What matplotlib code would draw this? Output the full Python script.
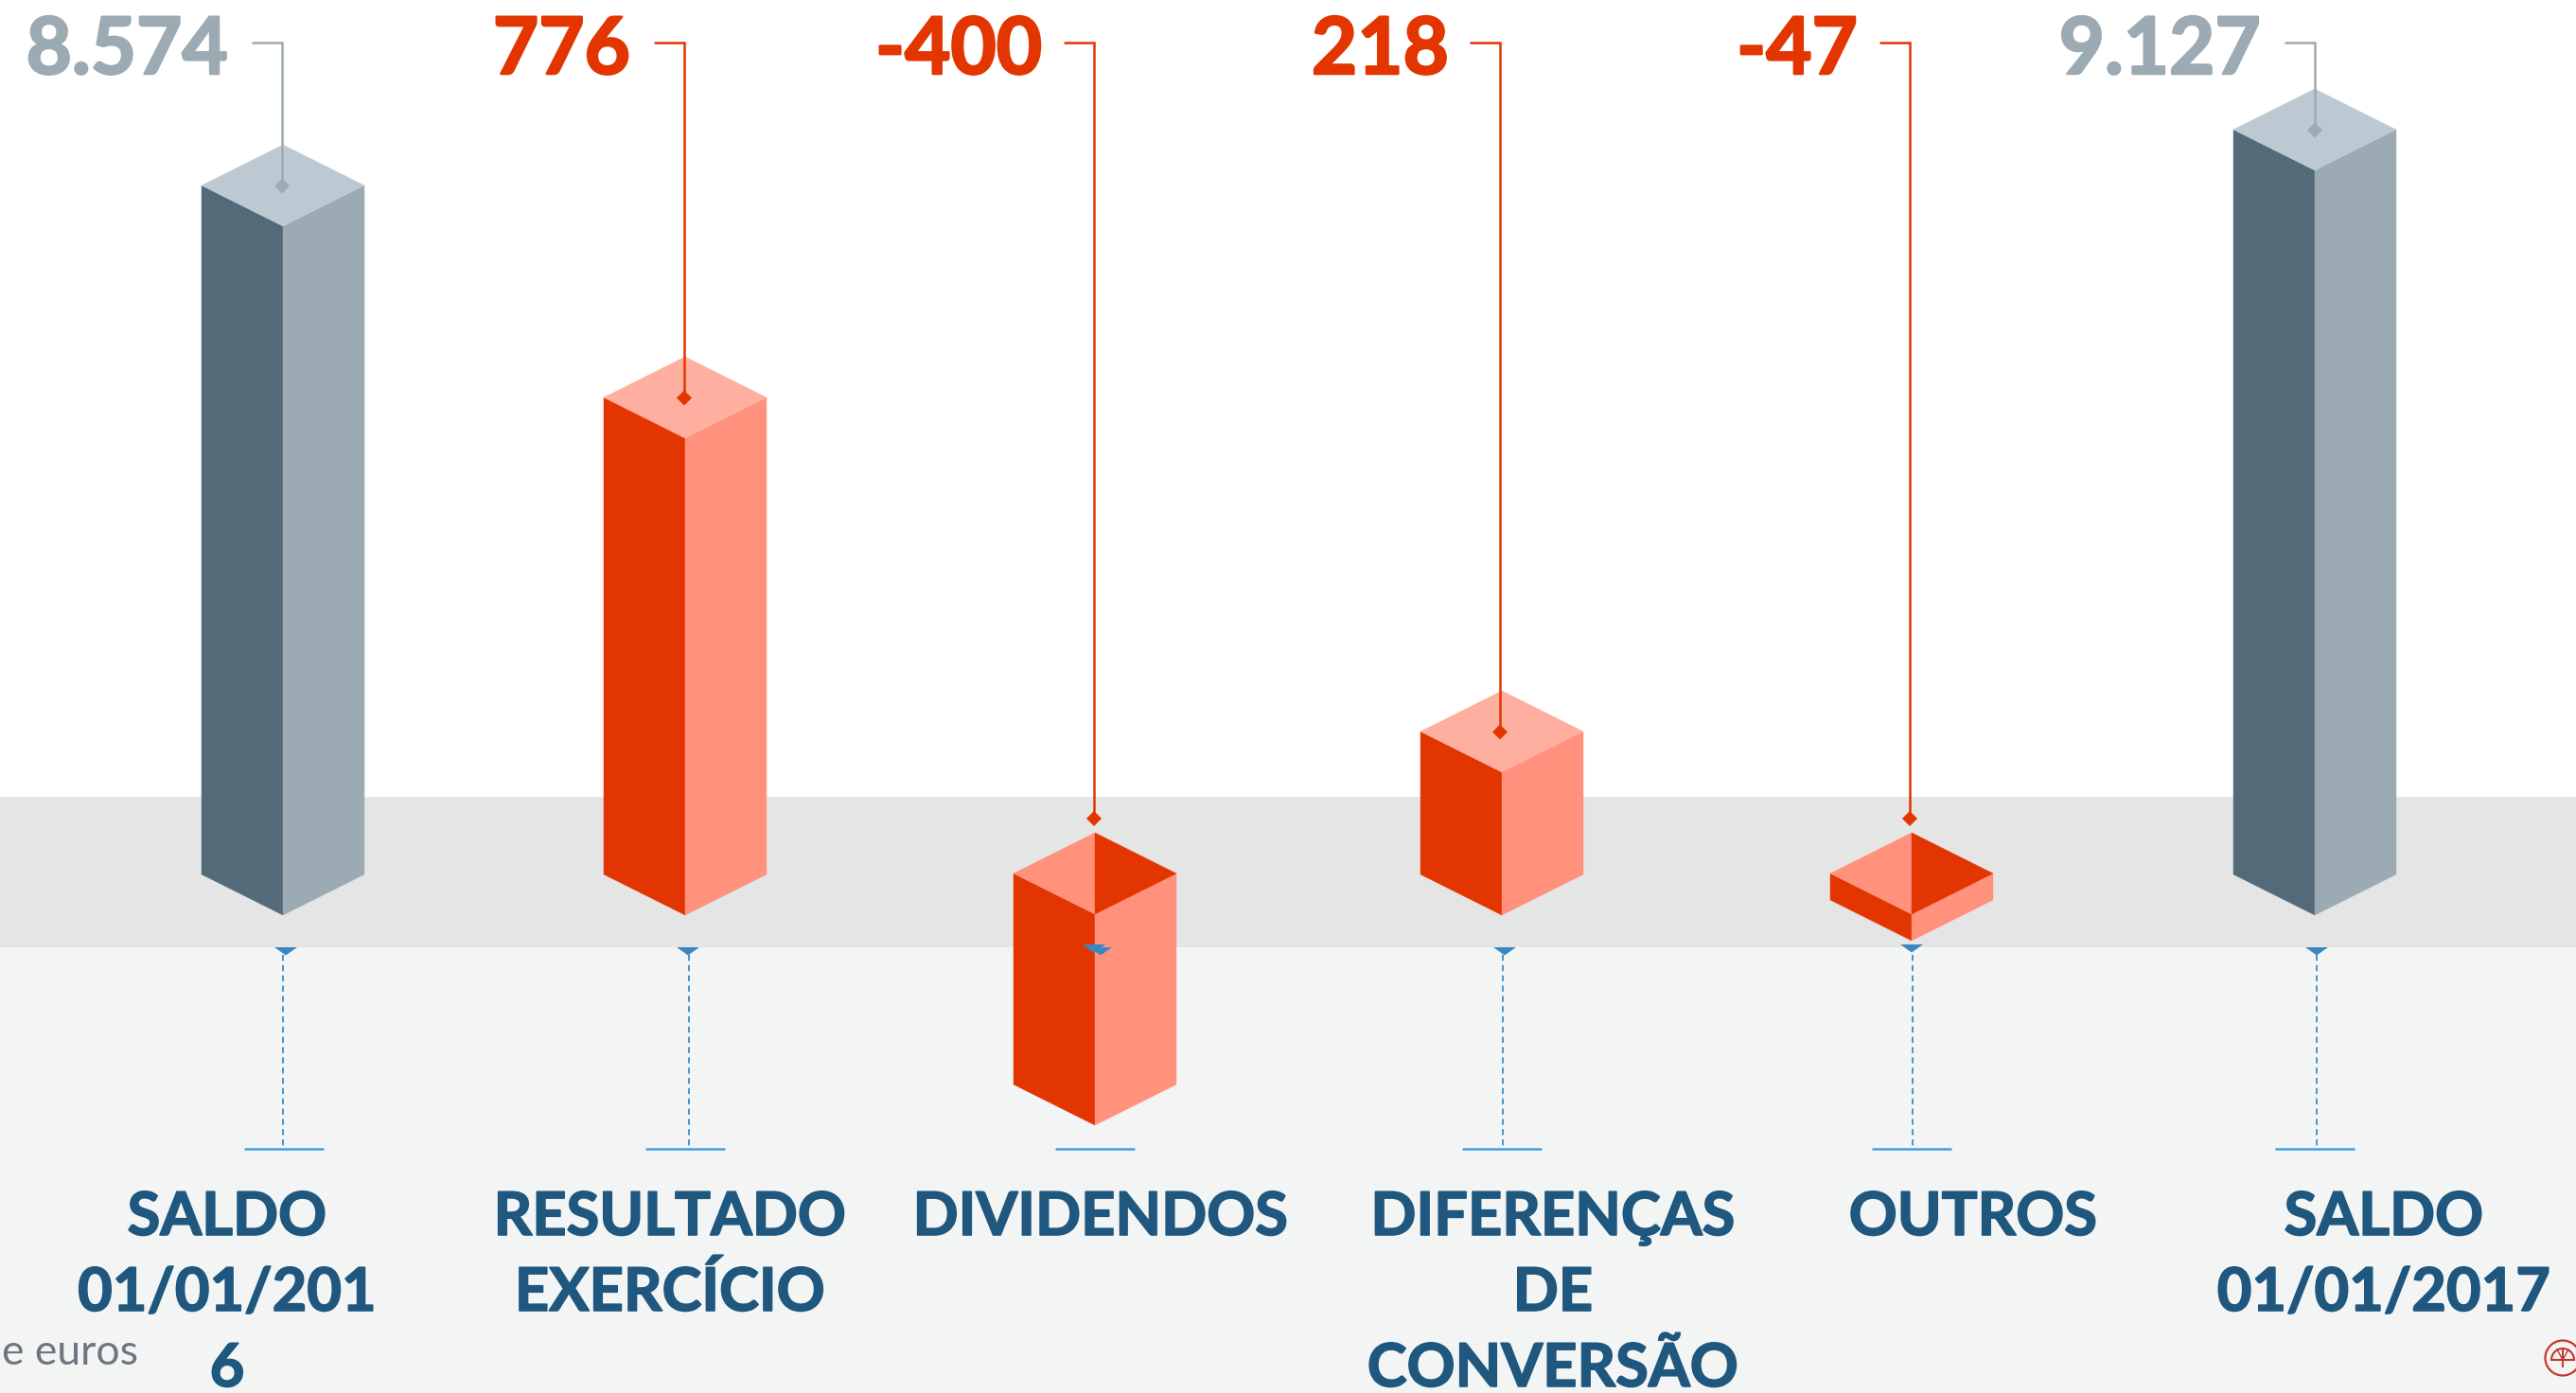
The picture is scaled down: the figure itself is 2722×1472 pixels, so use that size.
import numpy as np
import matplotlib.pyplot as plt
import matplotlib.patheffects as pe
from matplotlib.patches import Polygon, Circle, Wedge

plt.rcParams['font.family'] = ['Lato', 'DejaVu Sans']

# data
categories = ["SALDO\n01/01/201\n6", "RESULTADO\nEXERCÍCIO", "DIVIDENDOS",
              "DIFERENÇAS\nDE\nCONVERSÃO", "OUTROS", "SALDO\n01/01/2017"]
values = [8574, 776, -400, 218, -47, 9127]
value_labels = ["8.574", "776", "-400", "218", "-47", "9.127"]

# the picture's height scale is not linear, these knots are read off it
scale_values = [0, 47, 218, 400, 776, 8574, 9127]
scale_px = [0, 28, 151, 223, 504, 728, 787]

# layout, in pixels of the 2722x1472 picture
bar_x = [299, 724, 1157, 1587, 2020, 2446]
half_w = 86
rise = 43
base_pos = 924
base_neg = 923
label_right = [241, 666, 1101, 1531, 1963, 2389]
label_x = [240, 708, 1163, 1641, 2085, 2519]
leader_x = [298, 723, 1156, 1585, 2018, 2446]
tri_x = [302, 727, 1163, 1590, 2020, 2448]
dash_x = [299, 728, None, 1588, 2021, 2448]
tick_x = [300, 724, 1157, 1587, 2020, 2446]

GREY_D, GREY_L, GREY_T = "#546a78", "#9caab4", "#bdc9d2"
RED_D, RED_L, RED_T = "#e33500", "#ff917d", "#ffaf9f"
BLUE_TRI, BLUE_DASH, BLUE_LINE = "#3a87c0", "#3a8cc8", "#42a0e0"
NAVY = "#1f577f"


def bar_height(v):
    return np.interp(abs(v), scale_values, scale_px)


def face(ax, pts, color, z=3):
    ax.add_patch(Polygon(pts, closed=True, fc=color, ec=color, lw=0.3, zorder=z))


fig = plt.figure(figsize=(27.22, 14.72), dpi=100)
ax = fig.add_axes([0, 0, 1, 1])
ax.set_xlim(0, 2722)
ax.set_ylim(1472, 0)
ax.axis("off")

ax.axhspan(842, 1001, color="#e5e5e5", lw=0, zorder=1)
ax.axhspan(1001, 1472, color="#f3f5f4", lw=0, zorder=1)

for i, v in enumerate(values):
    x = bar_x[i]
    h = bar_height(v)
    grey = i in (0, 5)
    dark, light, top = (GREY_D, GREY_L, GREY_T) if grey else (RED_D, RED_L, RED_T)
    if v >= 0:
        y_top = base_pos - h
        y_bot = base_pos
        marker_y = y_top + 0.5
        face(ax, [(x - half_w, y_top), (x, y_top + rise), (x, y_bot + rise), (x - half_w, y_bot)], dark)
        face(ax, [(x, y_top + rise), (x + half_w, y_top), (x + half_w, y_bot), (x, y_bot + rise)], light)
        face(ax, [(x - half_w, y_top), (x, y_top - rise), (x + half_w, y_top), (x, y_top + rise)], top)
    else:
        y_top = base_neg
        y_bot = base_neg + h
        marker_y = 865
        face(ax, [(x - half_w, y_top), (x, y_top + rise), (x, y_bot + rise), (x - half_w, y_bot)], RED_D)
        face(ax, [(x, y_top + rise), (x + half_w, y_top), (x + half_w, y_bot), (x, y_bot + rise)], RED_L)
        # open top, we look inside the box
        face(ax, [(x - half_w, y_top), (x, y_top - rise), (x, y_top + rise)], RED_L)
        face(ax, [(x, y_top - rise), (x + half_w, y_top), (x, y_top + rise)], RED_D)

    col = GREY_L if grey else RED_D
    lx = leader_x[i]
    ax.plot([lx - 32, lx, lx], [45, 45, marker_y], color=col, lw=1.8, zorder=5,
            solid_joinstyle="miter", solid_capstyle="butt")
    ax.add_patch(Polygon([(lx - 8, marker_y), (lx, marker_y - 8), (lx + 8, marker_y), (lx, marker_y + 8)],
                         closed=True, fc=col, ec="none", zorder=5))
    ax.text(label_right[i], 78, value_labels[i], color=col, fontsize=60, fontweight="bold",
            ha="right", va="baseline", zorder=6,
            path_effects=[pe.withStroke(linewidth=1.8, foreground=col)])

    # blue guide under the band
    tx = tri_x[i]
    top_tri = 998 if i == 4 else 1001
    ax.add_patch(Polygon([(tx - 12, top_tri), (tx + 12, top_tri), (tx, top_tri + 8.5)],
                         closed=True, fc=BLUE_TRI, ec="none", zorder=6))
    if i == 2:
        ax.add_patch(Polygon([(tx - 19, 998), (tx + 5, 998), (tx - 7, 1007)],
                             closed=True, fc=BLUE_TRI, ec="none", zorder=6))
    if dash_x[i] is not None:
        ax.plot([dash_x[i], dash_x[i]], [1009, 1214], color=BLUE_DASH, lw=1.3,
                ls=(0, (3.5, 2.5)), zorder=2)
    ax.plot([tick_x[i] - 42, tick_x[i] + 42], [1214, 1214], color=BLUE_LINE, lw=1.8,
            solid_capstyle="butt", zorder=2)

    for j, line in enumerate(categories[i].split("\n")):
        ax.text(label_x[i], 1305 + j * 80, line, color=NAVY, fontsize=45.5, fontweight="bold",
                ha="center", va="baseline", zorder=6,
                path_effects=[pe.withStroke(linewidth=1.2, foreground=NAVY)])

ax.text(146, 1442, "e euros", color="#6f7480", fontsize=32, ha="right", va="baseline", zorder=6)

# small umbrella logo at the corner
logo = "#c8352c"
ax.add_patch(Circle((2708, 1435), 18.5, fc="none", ec=logo, lw=1.6, zorder=6))
ax.add_patch(Wedge((2708, 1437), 12, 180, 360, fc="none", ec=logo, lw=1.5, zorder=6))
ax.plot([2708, 2708], [1425, 1444], color=logo, lw=1.4, zorder=6)
ax.plot([2708, 2702], [1437, 1426], color=logo, lw=1.0, zorder=6)
ax.plot([2708, 2714], [1437, 1426], color=logo, lw=1.0, zorder=6)

fig.savefig("out.png", dpi=100, facecolor="white")
